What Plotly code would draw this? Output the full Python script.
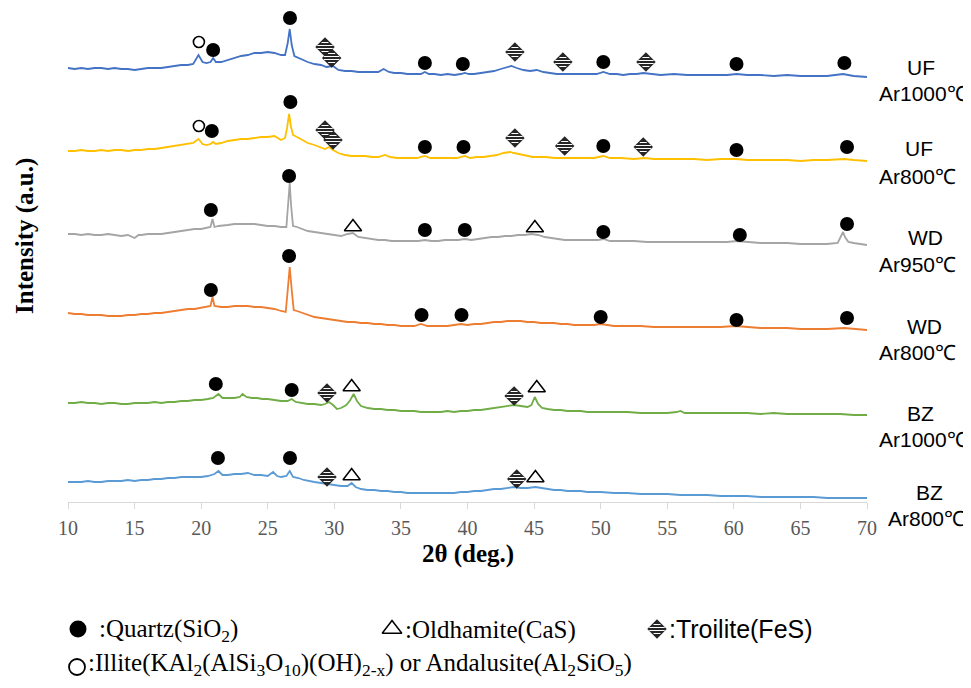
import plotly.graph_objects as go

W, H = 971, 688          # browser window (reference picture) size
BODY = 8                 # default page margin around the plotly div
FW, FH = W - BODY, H - 2 * BODY   # the right edge of the figure reaches the window edge

# ---------------- data (2θ in degrees, intensity in a.u., relative to each pattern's offset) -------------
names = ["UF Ar1000", "UF Ar800", "WD Ar950", "WD Ar800", "BZ Ar1000", "BZ Ar800"]
label_top = ["UF", "UF", "WD", "WD", "BZ", "BZ"]
label_bottom = ["Ar1000℃", "Ar800℃", "Ar950℃", "Ar800℃", "Ar1000℃", "Ar800℃"]
offsets = [425, 341, 257, 172, 88, 4]
colors = ["#4472C4", "#FFC000", "#A5A5A5", "#ED7D31", "#70AD47", "#5B9BD5"]

uf1000_x = [10, 10.5, 11, 11.5, 12, 12.5, 13, 13.5, 14, 14.5, 15, 15.5, 16, 16.5, 17, 17.5, 18, 18.5, 19, 19.4,
            19.8, 20.1, 20.4, 20.7, 20.9, 21.1, 21.5, 22, 22.5, 23, 23.5, 24, 24.5, 25, 25.5, 26, 26.3, 26.5,
            26.65, 26.8, 27, 27.5, 28, 28.5, 29, 29.4, 29.9, 30.3, 30.8, 31.3, 31.8, 32.3, 32.8, 33.3, 33.7,
            34.1, 34.5, 35, 35.5, 36, 36.5, 36.8, 37.1, 37.5, 38, 38.5, 39, 39.5, 39.8, 40.1, 40.5, 41, 41.5,
            42, 42.5, 43, 43.3, 43.7, 44.2, 44.7, 45.2, 45.7, 46.2, 46.7, 47.2, 47.7, 48.2, 48.7, 49.2, 49.7,
            50.2, 50.7, 51.2, 51.7, 52.2, 52.7, 53.2, 53.7, 54.5, 55.5, 56.5, 57.5, 58.5, 59.5, 60.2, 61, 62,
            63, 64, 65, 66, 67, 68.2, 69, 70]
uf1000_y = [9, 8, 9, 8, 9, 9, 8, 9, 8, 8, 7, 8, 9, 9, 9, 10, 11, 12, 12, 13,
            22, 15, 14, 15, 19, 15, 15, 17, 19, 21, 22, 24, 24, 25, 24, 22, 22, 34,
            48, 32, 21, 18, 15, 13, 12, 10, 11, 7, 6, 6, 5, 5, 5, 5, 8,
            5, 4, 4, 3, 3, 3, 5, 3, 3, 2, 3, 2, 3, 4, 3, 3, 4, 5,
            6, 8, 10, 11, 9, 7, 6, 7, 5, 4, 3, 3, 3, 3, 3, 3, 3,
            5, 3, 3, 2, 3, 3, 4, 3, 2, 3, 2, 2, 2, 2, 3, 2, 2,
            1, 2, 1, 1, 1, 3, 1, 0]

uf800_x = [10, 10.5, 11, 11.5, 12, 12.5, 13, 13.5, 14, 14.5, 15, 15.5, 16, 16.5, 17, 17.5, 18, 18.5, 19, 19.4,
           19.8, 20.1, 20.4, 20.7, 20.9, 21.1, 21.5, 22, 22.5, 23, 23.5, 24, 24.5, 25, 25.5, 26, 26.3, 26.45,
           26.6, 26.75, 26.9, 27.2, 27.6, 28, 28.5, 29, 29.3, 29.6, 29.9, 30.3, 30.8, 31.3, 31.8, 32.3, 32.8,
           33.3, 33.8, 34.2, 34.7, 35.2, 35.7, 36.2, 36.8, 37.2, 37.7, 38.2, 38.7, 39.2, 39.8, 40.2, 40.7,
           41.2, 41.7, 42.2, 42.7, 43.2, 43.5, 43.9, 44.4, 44.9, 45.4, 45.9, 46.5, 47, 47.5, 48, 48.5, 49,
           49.5, 50.2, 50.7, 51.5, 52.5, 53.3, 54, 55, 56, 57, 58, 59, 60.2, 61, 62, 63, 64, 65, 66, 67,
           68.3, 69, 70]
uf800_y = [10, 10, 11, 10, 10, 11, 10, 11, 11, 10, 11, 11, 12, 12, 13, 14, 15, 16, 17, 18,
           22, 17, 16, 17, 19, 17, 18, 20, 21, 22, 22, 23, 24, 24, 25, 21, 23, 33,
           47, 34, 26, 24, 21, 18, 16, 13, 12, 14, 11, 8, 6, 5, 5, 5, 4,
           4, 6, 4, 3, 3, 3, 3, 5, 3, 3, 3, 3, 3, 5, 3, 4,
           4, 5, 6, 8, 9, 8, 7, 5, 4, 4, 4, 3, 3, 3, 3, 3, 3,
           3, 5, 3, 3, 2, 3, 2, 2, 2, 2, 1, 2, 2, 1, 1, 1, 1, 0, 1, 1,
           2, 1, 0]

wd950_x = [10, 10.5, 11, 11.5, 12, 12.5, 13, 13.5, 14, 14.5, 15, 15.3, 15.5, 16, 16.5, 17, 17.5, 18, 18.5, 19,
           19.5, 20, 20.5, 20.7, 20.85, 21, 21.3, 21.7, 22, 22.5, 23, 23.5, 24, 24.5, 25, 25.5, 26, 26.4,
           26.55, 26.65, 26.75, 26.9, 27.2, 27.6, 28, 28.5, 29, 29.5, 30, 30.5, 31, 31.4, 31.8, 32.3, 32.8,
           33.3, 33.8, 34.3, 34.8, 35.3, 35.8, 36.3, 36.8, 37.3, 37.8, 38.3, 38.8, 39.3, 39.8, 40.3, 40.8,
           41.3, 41.8, 42.3, 42.8, 43.3, 43.8, 44.3, 44.8, 45.3, 45.8, 46.3, 46.8, 47.3, 47.8, 48.3, 48.8,
           49.3, 49.8, 50.2, 50.7, 51.5, 52.5, 53.5, 54.5, 55.5, 56.5, 57.5, 58.5, 59.5, 60.2, 61, 62, 63,
           64, 65, 66, 67, 67.8, 68.05, 68.2, 68.35, 68.6, 69, 69.5, 70]
wd950_y = [11, 11, 10, 11, 10, 10, 11, 10, 9, 10, 7, 10, 10, 11, 11, 11, 12, 13, 14, 15,
           16, 16, 17, 18, 26, 18, 19, 20, 20, 21, 21, 21, 21, 20, 19, 19, 18, 18,
           40, 62, 40, 19, 18, 16, 14, 13, 12, 11, 10, 9, 11, 12, 8, 7, 6,
           5, 5, 4, 4, 4, 4, 4, 5, 4, 4, 5, 5, 5, 6, 5, 6,
           7, 8, 8, 9, 9, 10, 10, 11, 10, 8, 7, 6, 5, 5, 5, 5,
           5, 5, 6, 4, 4, 4, 3, 3, 3, 3, 3, 3, 3, 4, 3, 2, 2,
           2, 1, 1, 1, 2, 8, 13, 8, 3, 2, 1, 0]

wd800_x = [10, 10.5, 11, 11.5, 12, 12.5, 13, 13.5, 14, 14.5, 15, 15.5, 16, 16.5, 17, 17.5, 18, 18.5, 19, 19.5,
           20, 20.5, 20.7, 20.85, 21, 21.5, 22, 22.5, 23, 23.5, 24, 24.5, 25, 25.5, 26, 26.35, 26.5, 26.65,
           26.8, 26.95, 27.2, 27.6, 28, 28.5, 29, 29.5, 30, 30.5, 31, 31.5, 32, 32.5, 33, 33.5, 34, 34.5, 35,
           35.5, 36, 36.5, 37, 37.5, 38, 38.5, 39, 39.5, 40, 40.5, 41, 41.5, 42, 42.5, 43, 43.5, 44, 44.5,
           45, 45.5, 46, 46.5, 47, 47.5, 48, 48.5, 49, 49.5, 50, 50.5, 51, 52, 53, 54, 55, 56, 57, 58, 59,
           60.1, 61, 62, 63, 64, 65, 66, 67, 68.3, 69, 70]
wd800_y = [17, 16, 16, 15, 15, 15, 14, 14, 14, 15, 15, 16, 16, 17, 17, 18, 19, 20, 21, 21,
           22, 23, 24, 33, 24, 23, 23, 24, 24, 24, 23, 23, 22, 21, 19, 18, 40, 63,
           40, 20, 19, 17, 15, 13, 12, 11, 10, 9, 8, 8, 7, 7, 6, 6, 5, 5, 4,
           4, 4, 6, 4, 4, 4, 4, 5, 6, 5, 6, 6, 7, 8, 8, 9, 9, 9, 8,
           8, 7, 7, 7, 6, 6, 5, 5, 5, 5, 6, 5, 4, 4, 4, 3, 3, 3, 3, 3, 3,
           4, 3, 2, 2, 2, 1, 1, 1, 2, 1, 0]

bz1000_x = [10, 10.5, 11, 11.5, 12, 12.5, 13, 13.5, 14, 14.5, 15, 15.5, 16, 16.5, 17, 17.5, 18, 18.5, 19, 19.5,
            20, 20.5, 20.9, 21.3, 21.6, 22, 22.5, 22.9, 23.1, 23.4, 23.8, 24.2, 24.6, 25, 25.5, 26, 26.5,
            26.8, 27.1, 27.5, 28, 28.5, 29, 29.3, 29.6, 29.9, 30.2, 30.5, 30.9, 31.2, 31.45, 31.7, 32, 32.5,
            33, 33.5, 34, 34.5, 35, 35.5, 36, 36.5, 37, 37.5, 38, 38.5, 39, 39.5, 40, 40.5, 41, 41.5, 42,
            42.5, 43, 43.5, 44, 44.5, 44.8, 45.05, 45.3, 45.6, 46, 46.5, 47, 47.5, 48, 48.5, 49, 50, 51, 52,
            53, 54, 55, 55.7, 56, 56.3, 57, 58, 59, 60, 61, 62, 63, 64, 65, 66, 67, 68, 69, 70]
bz1000_y = [11, 11, 12, 11, 11, 10, 11, 11, 10, 10, 11, 11, 11, 12, 11, 12, 12, 13, 13, 14,
            14, 15, 16, 20, 16, 16, 16, 17, 20, 17, 16, 16, 15, 15, 14, 13, 13,
            15, 12, 11, 10, 10, 9, 10, 12, 9, 5, 6, 9, 14, 20, 13, 8, 6,
            5, 5, 4, 4, 3, 3, 3, 2, 2, 2, 2, 3, 2, 3, 3, 4, 4, 5, 6,
            7, 8, 9, 8, 7, 9, 17, 10, 6, 5, 4, 4, 3, 3, 3, 2, 2, 2, 2,
            1, 1, 1, 2, 3, 1, 1, 1, 1, 1, 1, 0, 1, 0, 0, 0, 0, 0, -1, -1]

bz800_x = [10, 10.5, 11, 11.5, 12, 12.5, 13, 13.5, 14, 14.5, 15, 15.5, 16, 16.5, 17, 17.5, 18, 18.5, 19, 19.5,
           20, 20.5, 21, 21.3, 21.6, 22, 22.5, 23, 23.5, 24, 24.5, 25, 25.4, 25.7, 26, 26.4, 26.65, 26.9,
           27.3, 27.7, 28, 28.5, 29, 29.5, 30, 30.5, 31, 31.3, 31.6, 32, 32.5, 33, 33.5, 34, 34.5, 35, 35.5,
           36, 36.5, 37, 37.5, 38, 38.5, 39, 39.5, 40, 40.5, 41, 41.5, 42, 42.5, 43, 43.5, 44, 44.5, 45.1,
           45.5, 46, 46.5, 47, 47.5, 48, 48.5, 49, 49.5, 50, 51, 52, 53, 54, 55, 56, 57, 58, 59, 60, 61, 62,
           63, 64, 65, 66, 67, 68, 69, 70]
bz800_y = [16, 16, 16, 17, 16, 16, 17, 17, 17, 18, 17, 18, 18, 19, 19, 20, 20, 21, 21, 21,
           21, 22, 24, 27, 23, 23, 24, 24, 25, 23, 23, 22, 26, 22, 21, 22, 27, 21,
           20, 18, 17, 16, 15, 14, 13, 12, 12, 15, 11, 9, 8, 8, 7, 7, 6, 6, 5,
           5, 5, 5, 5, 5, 5, 5, 6, 6, 7, 7, 8, 9, 9, 10, 11, 10, 10, 11,
           10, 9, 8, 8, 7, 7, 7, 6, 6, 6, 5, 5, 4, 4, 4, 3, 3, 3, 2, 2, 2, 1,
           1, 1, 1, 1, 0, 0, 0, 0]

series_x = [uf1000_x, uf800_x, wd950_x, wd800_x, bz1000_x, bz800_x]
series_y = [uf1000_y, uf800_y, wd950_y, wd800_y, bz1000_y, bz800_y]

# phase identification marks (2θ, stacked intensity)
quartz_x = [20.9, 26.67, 36.8, 39.65, 50.2, 60.2, 68.3,
            20.8, 26.7, 36.8, 39.7, 50.2, 60.2, 68.5,
            20.73, 26.6, 36.8, 39.8, 50.2, 60.45, 68.5,
            20.73, 26.6, 36.55, 39.55, 50.0, 60.2, 68.5,
            21.1, 26.8,
            21.26, 26.67]
quartz_y = [452, 484, 439, 438, 440, 438, 439,
            371, 400, 355, 355, 356, 352, 355,
            292, 326, 272, 272, 270, 267, 278,
            212, 246, 187, 187, 185, 182, 184,
            118, 112,
            44, 44]
illite_x = [19.83, 19.83]
illite_y = [460, 376]
oldhamite_x = [31.4, 45.06, 31.3, 45.2, 31.3, 45.1]
oldhamite_y = [275, 274, 115, 114, 26, 24]
troilite_x = [29.3, 29.8, 43.56, 47.16, 53.4,
              29.3, 29.9, 43.56, 47.3, 53.2,
              29.45, 43.5,
              29.45, 43.7]
troilite_y = [455, 444, 450, 440, 440,
              372, 362, 364, 356, 355,
              109, 106,
              25, 23]

x_ticks = [10, 15, 20, 25, 30, 35, 40, 45, 50, 55, 60, 65, 70]

# ---------------- figure ----------------
# plot area in window pixels: x 68..867, y 8..502 (value 0 at pixel 502)
PL, PR, PT, PB = 68, 867, 8, 502
fig = go.Figure()

for xs, ys, off, col, nm in zip(series_x, series_y, offsets, colors, names):
    fig.add_trace(go.Scatter(x=xs, y=[v + off for v in ys], mode="lines", name=nm,
                             line=dict(color=col, width=1.8), hoverinfo="skip"))

BLACK = "#000000"


def add_troilite(xs, ys, xa="x", ya="y", sgn=1.0, size=15):
    fig.add_trace(go.Scatter(x=xs, y=ys, mode="markers", xaxis=xa, yaxis=ya,
                             marker=dict(symbol="diamond", size=size, color="#262626",
                                         line=dict(width=0)), hoverinfo="skip"))
    for dy, sz in [(-4.5, 5), (-1.5, 11), (1.5, 11), (4.5, 5)]:
        fig.add_trace(go.Scatter(x=xs, y=[v + dy * sgn for v in ys], mode="markers",
                                 xaxis=xa, yaxis=ya,
                                 marker=dict(symbol="line-ew", size=sz * size / 15, color="white",
                                             line=dict(width=1.0, color="white")),
                                 hoverinfo="skip"))


fig.add_trace(go.Scatter(x=quartz_x, y=quartz_y, mode="markers",
                         marker=dict(symbol="circle", size=14, color=BLACK), hoverinfo="skip"))
fig.add_trace(go.Scatter(x=illite_x, y=illite_y, mode="markers",
                         marker=dict(symbol="circle-open", size=11, color=BLACK,
                                     line=dict(width=1.6, color=BLACK)),
                         hoverinfo="skip"))
fig.add_trace(go.Scatter(x=oldhamite_x, y=oldhamite_y, mode="markers",
                         marker=dict(symbol="triangle-up-open", size=15, color=BLACK,
                                     line=dict(width=1.5, color=BLACK)),
                         hoverinfo="skip"))
add_troilite(troilite_x, troilite_y)

# legend glyphs on a full-page overlay axis expressed in window pixels
fig.add_trace(go.Scatter(x=[78], y=[629], xaxis="x2", yaxis="y2", mode="markers",
                         marker=dict(symbol="circle", size=17, color=BLACK), hoverinfo="skip"))
fig.add_trace(go.Scatter(x=[392], y=[629], xaxis="x2", yaxis="y2", mode="markers",
                         marker=dict(symbol="triangle-up-open", size=17, color=BLACK,
                                     line=dict(width=1.5, color=BLACK)),
                         hoverinfo="skip"))
fig.add_trace(go.Scatter(x=[77], y=[667], xaxis="x2", yaxis="y2", mode="markers",
                         marker=dict(symbol="circle-open", size=16, color=BLACK,
                                     line=dict(width=1.8, color=BLACK)),
                         hoverinfo="skip"))
add_troilite([657], [629], xa="x2", ya="y2", sgn=-1.0, size=15)

ann = []
TIMES = "Liberation Serif, Times New Roman, serif"
ARIAL = "Liberation Sans, Arial, sans-serif"

label_pos = [(921, 67, 877, 93), (919, 148, 877, 176), (925, 237, 877, 264),
             (924, 326, 877, 352), (920, 413, 877, 439), (929, 492, 886, 518)]
for (tx, ty, bx, by), t, b in zip(label_pos, label_top, label_bottom):
    ann.append(dict(x=tx, y=ty, xref="x2", yref="y2", text=t, showarrow=False,
                    xanchor="center", yanchor="middle", font=dict(family=ARIAL, size=21, color="#000")))
    ann.append(dict(x=bx, y=by, xref="x2", yref="y2", text=b, showarrow=False,
                    xanchor="left", yanchor="middle", font=dict(family=ARIAL, size=21, color="#000")))

ann.append(dict(x=25, y=236, xref="x2", yref="y2", text="<b>Intensity (a.u.)</b>", textangle=-90,
                showarrow=False, xanchor="center", yanchor="middle",
                font=dict(family=TIMES, size=25, color="#000")))
ann.append(dict(x=468, y=554, xref="x2", yref="y2", text="<b>2θ (deg.)</b>",
                showarrow=False, xanchor="center", yanchor="middle",
                font=dict(family=TIMES, size=25, color="#000")))

ann.append(dict(x=97, y=630, xref="x2", yref="y2", text=":Quartz(SiO<sub>2</sub>)",
                showarrow=False, xanchor="left", yanchor="middle",
                font=dict(family=TIMES, size=25, color="#000")))
ann.append(dict(x=403, y=630, xref="x2", yref="y2", text=":Oldhamite(CaS)",
                showarrow=False, xanchor="left", yanchor="middle",
                font=dict(family=TIMES, size=25, color="#000")))
ann.append(dict(x=667, y=629, xref="x2", yref="y2", text=":Troilite(FeS)",
                showarrow=False, xanchor="left", yanchor="middle",
                font=dict(family=ARIAL, size=25, color="#000")))
ann.append(dict(x=86, y=664, xref="x2", yref="y2",
                text=":Illite(KAl<sub>2</sub>(AlSi<sub>3</sub>O<sub>10</sub>)(OH)<sub>2-x</sub>) or "
                     "Andalusite(Al<sub>2</sub>SiO<sub>5</sub>)",
                showarrow=False, xanchor="left", yanchor="middle",
                font=dict(family=TIMES, size=25, color="#000")))

fig.update_layout(
    width=FW, height=FH,
    margin=dict(l=0, r=0, t=0, b=0, pad=0, autoexpand=False),
    paper_bgcolor="white", plot_bgcolor="rgba(0,0,0,0)",
    showlegend=False,
    xaxis=dict(domain=[(PL - BODY) / FW, (PR - BODY) / FW], range=[10, 70],
               tickvals=x_ticks,
               ticks="outside", ticklen=6, tickcolor="#D9D9D9", tickwidth=1,
               showline=True, linecolor="#D9D9D9", linewidth=1.2,
               showgrid=False, zeroline=False, anchor="y",
               tickfont=dict(family=TIMES, size=20, color="#595959"),
               ticklabelstandoff=2),
    yaxis=dict(domain=[1 - (PB - BODY) / FH, 1], range=[0, PB - PT], visible=False, showgrid=False,
               zeroline=False, anchor="x"),
    xaxis2=dict(domain=[0, 1], range=[BODY, BODY + FW], visible=False,
                anchor="y2", showgrid=False, zeroline=False),
    yaxis2=dict(domain=[0, 1], range=[BODY + FH, BODY], visible=False, anchor="x2",
                showgrid=False, zeroline=False),
    annotations=ann,
)

fig.write_html("out.html")
